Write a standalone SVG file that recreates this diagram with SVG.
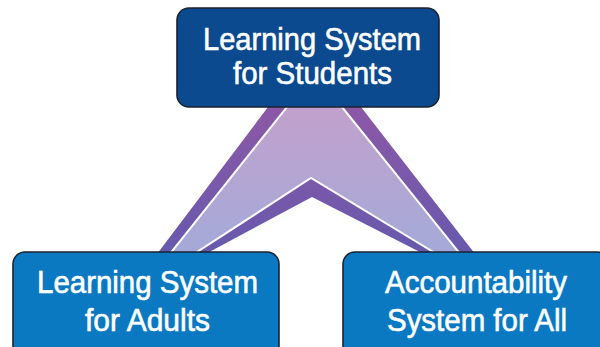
<svg xmlns="http://www.w3.org/2000/svg" width="600" height="347" viewBox="0 0 600 347">
  <defs>
    <linearGradient id="bandGrad" gradientUnits="userSpaceOnUse" x1="0" y1="100" x2="0" y2="256">
      <stop offset="0" stop-color="#8e58a6"/>
      <stop offset="1" stop-color="#6659ad"/>
    </linearGradient>
    <linearGradient id="fillGrad" gradientUnits="userSpaceOnUse" x1="0" y1="100" x2="0" y2="256">
      <stop offset="0" stop-color="#c4a0cc"/>
      <stop offset="1" stop-color="#a3aad9"/>
    </linearGradient>
    <style>
      .box { stroke: #1b2230; stroke-width: 1.6; }
      .top { fill: #0b4a8f; }
      .bottom { fill: #0a79c2; }
      .label { font-family: "Liberation Sans", Arial, sans-serif; font-size: 31px; fill: #ffffff; stroke: #ffffff; stroke-width: 0.6; text-anchor: middle; }
    </style>
  </defs>
  <rect width="600" height="347" fill="#ffffff"/>

  <!-- chevron linking the three systems -->
  <g id="connectors">
    <polygon points="273.3,100 355.6,100 476.7,256 427.8,256 312,197 201.8,256 155.5,256" fill="url(#bandGrad)"/>
    <polygon points="292.6,100 336.4,100 461.8,256 440,256 311,178 190.8,256 168.2,256" fill="url(#fillGrad)" stroke="#ffffff" stroke-width="2" stroke-linejoin="miter"/>
  </g>

  <g id="node-students">
    <rect class="box top" x="177" y="8" width="262" height="99" rx="12"/>
    <text class="label" x="312" y="49.5" textLength="218" lengthAdjust="spacingAndGlyphs">Learning System</text>
    <text class="label" x="312.5" y="83.5" textLength="159" lengthAdjust="spacingAndGlyphs">for Students</text>
  </g>

  <g id="node-adults">
    <rect class="box bottom" x="13" y="252" width="266" height="110" rx="12"/>
    <text class="label" x="147.5" y="293" textLength="221" lengthAdjust="spacingAndGlyphs">Learning System</text>
    <text class="label" x="147.5" y="330.5" textLength="125" lengthAdjust="spacingAndGlyphs">for Adults</text>
  </g>

  <g id="node-accountability">
    <rect class="box bottom" x="343" y="252" width="266" height="110" rx="12"/>
    <text class="label" x="476" y="293" textLength="182" lengthAdjust="spacingAndGlyphs">Accountability</text>
    <text class="label" x="477" y="330.5" textLength="180" lengthAdjust="spacingAndGlyphs">System for All</text>
  </g>
</svg>
